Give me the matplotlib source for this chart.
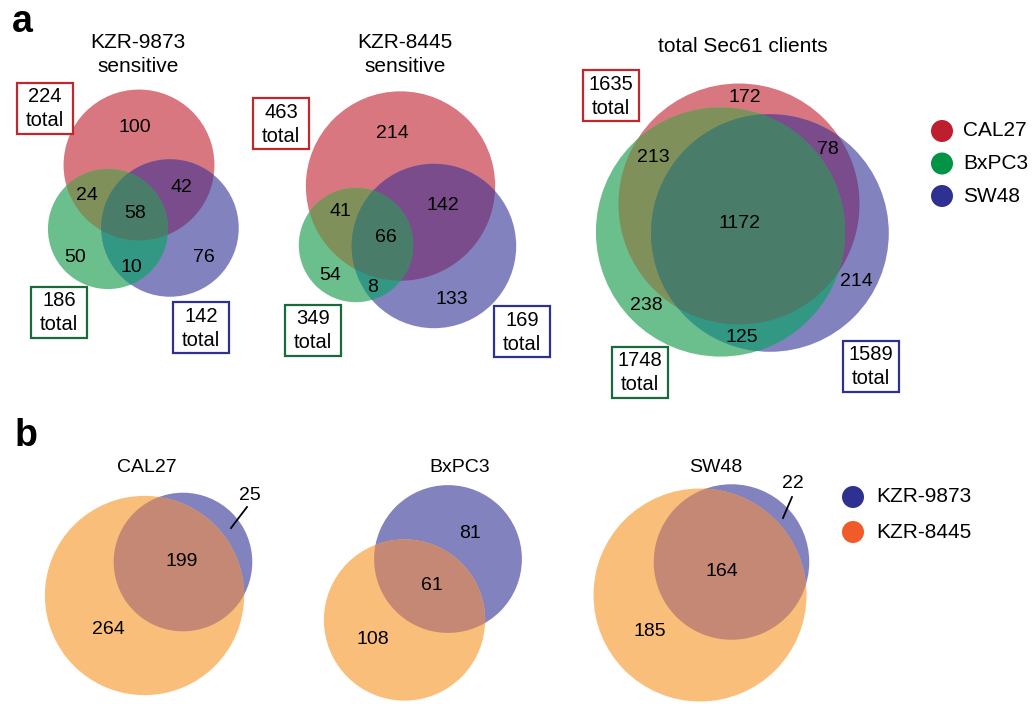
import numpy as np
import matplotlib
matplotlib.use("Agg")
import matplotlib.pyplot as plt
from matplotlib.patches import Circle, Rectangle, Polygon

plt.rcParams["font.family"] = ["Liberation Sans", "DejaVu Sans"]

# ---------------- data ----------------
cell_lines = ["CAL27", "BxPC3", "SW48"]
compounds = ["KZR-9873", "KZR-8445"]

# panel a: three-set regions, keys are membership in (CAL27, BxPC3, SW48)
a_titles = ["KZR-9873\nsensitive", "KZR-8445\nsensitive", "total Sec61 clients"]
a_regions = [
    {"100": 100, "010": 50, "001": 76, "110": 24, "101": 42, "011": 10, "111": 58},
    {"100": 214, "010": 54, "001": 133, "110": 41, "101": 142, "011": 8, "111": 66},
    {"100": 172, "010": 238, "001": 214, "110": 213, "101": 78, "011": 125, "111": 1172},
]
# totals printed in the boxes (CAL27, BxPC3, SW48)
a_box_totals = [[224, 186, 142], [463, 349, 169], [1635, 1748, 1589]]

# panel b: two-set regions per cell line
b_only_9873 = [25, 81, 22]
b_shared = [199, 61, 164]
b_only_8445 = [264, 108, 185]

# ---------------- styling ----------------
set_colors = {"CAL27": "#be1e2d", "BxPC3": "#009444", "SW48": "#2e3192"}
box_colors = {"CAL27": "#c1272d", "BxPC3": "#1a6b3c", "SW48": "#2e3192"}
# translucent-looking fills for each Venn region
region_fill = {
    "100": "#d87780", "010": "#6bbf8c", "001": "#8283be",
    "110": "#7f905a", "101": "#7b4c8b", "011": "#329884", "111": "#4a7d69",
}
cmp_fill = {"KZR-9873": "#8283be", "KZR-8445": "#f9be79", "both": "#c58874"}
cmp_legend = {"KZR-9873": "#2e3192", "KZR-8445": "#f15a29"}

fig = plt.figure(figsize=(10.32, 7.04), dpi=100)
ax = fig.add_axes([0, 0, 1, 1])
ax.set_xlim(0, 1032)
ax.set_ylim(704, 0)
ax.axis("off")

NUM_FS = 14
TITLE_FS = 15


def txt(x, y, s, fs=NUM_FS, **kw):
    ax.text(x, y, s, fontsize=fs, ha="center", va="center", **kw)


def set_size(regions, idx):
    return sum(v for k, v in regions.items() if k[idx] == "1")


def intersection_polygon(circles, n=2400):
    """Convex outline of the common area of several circles."""
    t = np.linspace(0, 2 * np.pi, n, endpoint=False)
    pts = []
    for k, (c, r) in enumerate(circles):
        p = np.column_stack([c[0] + r * np.cos(t), c[1] + r * np.sin(t)])
        keep = np.ones(n, bool)
        for j, (c2, r2) in enumerate(circles):
            if j != k:
                keep &= np.hypot(p[:, 0] - c2[0], p[:, 1] - c2[1]) <= r2 + 1e-6
        pts.append(p[keep])
    pts = np.vstack(pts)
    ctr = pts.mean(axis=0)
    order = np.argsort(np.arctan2(pts[:, 1] - ctr[1], pts[:, 0] - ctr[0]))
    return pts[order]


# panel a layout: circle centres and pixel-per-sqrt(count) scale
a_layout = [
    dict(scale=5.04, centers=[(139, 165), (108, 229), (170, 228)], title=(138, 55),
         labels={"100": (135, 127), "110": (87, 195), "101": (181, 187), "111": (135, 213),
                 "010": (75, 257), "011": (131, 267), "001": (204, 257)},
         boxes=[(17, 83), (31, 287), (173, 302)]),
    dict(scale=4.40, centers=[(400.5, 186), (356, 245), (434, 246)], title=(405, 55),
         labels={"100": (392, 133), "110": (340, 211), "101": (443, 205), "111": (386, 238),
                 "010": (330, 275), "011": (373, 288), "001": (452, 299)},
         boxes=[(253, 98), (285, 305), (494, 306)]),
    dict(scale=2.98, centers=[(739, 204), (720.5, 232), (770, 233)], title=(743, 46),
         labels={"100": (745, 97), "110": (653, 157), "101": (828, 149), "111": (740, 223),
                 "010": (646, 305), "011": (742, 337), "001": (856, 281)},
         boxes=[(583, 70), (612, 347), (843, 341)]),
]
BOX_W, BOX_H = 56, 51

for regions, totals, title, lay in zip(a_regions, a_box_totals, a_titles, a_layout):
    circles = [(lay["centers"][i], lay["scale"] * np.sqrt(set_size(regions, i)))
               for i in range(3)]
    solo = ["100", "010", "001"]
    for i, (c, r) in enumerate(circles):
        ax.add_patch(Circle(c, r, facecolor=region_fill[solo[i]], edgecolor="none", zorder=1))
    for (i, j), key in [((0, 1), "110"), ((0, 2), "101"), ((1, 2), "011")]:
        poly = intersection_polygon([circles[i], circles[j]])
        ax.add_patch(Polygon(poly, closed=True, facecolor=region_fill[key],
                             edgecolor="none", zorder=1.5))
    poly = intersection_polygon(circles)
    ax.add_patch(Polygon(poly, closed=True, facecolor=region_fill["111"],
                         edgecolor="none", zorder=1.8))
    for key, (x, y) in lay["labels"].items():
        txt(x, y, str(regions[key]), zorder=3)
    tx, ty = lay["title"]
    if "\n" in title:
        l1, l2 = title.split("\n")
        txt(tx, ty - 12, l1, fs=TITLE_FS)
        txt(tx, ty + 12, l2, fs=TITLE_FS)
    else:
        txt(tx, ty, title, fs=TITLE_FS)
    for i, (bx, by) in enumerate(lay["boxes"]):
        name = cell_lines[i]
        ax.add_patch(Rectangle((bx, by), BOX_W, BOX_H, facecolor="white",
                               edgecolor=box_colors[name], linewidth=1.6, zorder=4))
        txt(bx + BOX_W / 2, by + 14, str(totals[i]), fs=14.5, zorder=5)
        txt(bx + BOX_W / 2, by + 38, "total", fs=14.5, zorder=5)

# legend for panel a
for i, name in enumerate(cell_lines):
    y = 131 + i * 32.5
    ax.add_patch(Circle((942, y), 11, facecolor=set_colors[name], edgecolor="none"))
    ax.text(963, y, name, fontsize=15, ha="left", va="center")

# panel b layout
b_layout = [
    dict(scale=4.63, c9873=(183, 562), c8445=(144.5, 595.5), title=(147, 468),
         lab_only9873=(250, 495), lab_shared=(182, 561), lab_only8445=(108, 630),
         leader=((247, 507), (231, 528))),
    dict(scale=6.2, c9873=(448, 559), c8445=(404.5, 620), title=(460, 468),
         lab_only9873=(470, 533), lab_shared=(432, 585), lab_only8445=(373, 640),
         leader=None),
    dict(scale=5.7, c9873=(731.5, 562), c8445=(700, 595), title=(716, 467),
         lab_only9873=(793, 483), lab_shared=(722, 572), lab_only8445=(650, 632),
         leader=((792, 497), (783, 518))),
]

for name, o9, sh, o8, lay in zip(cell_lines, b_only_9873, b_shared, b_only_8445, b_layout):
    c9 = (lay["c9873"], lay["scale"] * np.sqrt(o9 + sh))
    c8 = (lay["c8445"], lay["scale"] * np.sqrt(o8 + sh))
    ax.add_patch(Circle(*c9, facecolor=cmp_fill["KZR-9873"], edgecolor="none", zorder=1))
    ax.add_patch(Circle(*c8, facecolor=cmp_fill["KZR-8445"], edgecolor="none", zorder=1))
    ax.add_patch(Polygon(intersection_polygon([c9, c8]), closed=True,
                         facecolor=cmp_fill["both"], edgecolor="none", zorder=1.5))
    txt(*lay["title"], name, fs=14)
    txt(*lay["lab_only9873"], str(o9), zorder=3)
    txt(*lay["lab_shared"], str(sh), zorder=3)
    txt(*lay["lab_only8445"], str(o8), zorder=3)
    if lay["leader"] is not None:
        (x0, y0), (x1, y1) = lay["leader"]
        ax.plot([x0, x1], [y0, y1], color="black", linewidth=1.3, zorder=3)

# legend for panel b
for i, name in enumerate(compounds):
    y = 497 + i * 35
    ax.add_patch(Circle((853, y), 11, facecolor=cmp_legend[name], edgecolor="none"))
    ax.text(876, y, name, fontsize=15, ha="left", va="center")

# panel letters
ax.text(12, 22, "a", fontsize=27, fontweight="bold", ha="left", va="center")
ax.text(15, 436, "b", fontsize=27, fontweight="bold", ha="left", va="center")

fig.savefig("out.png", dpi=100)
